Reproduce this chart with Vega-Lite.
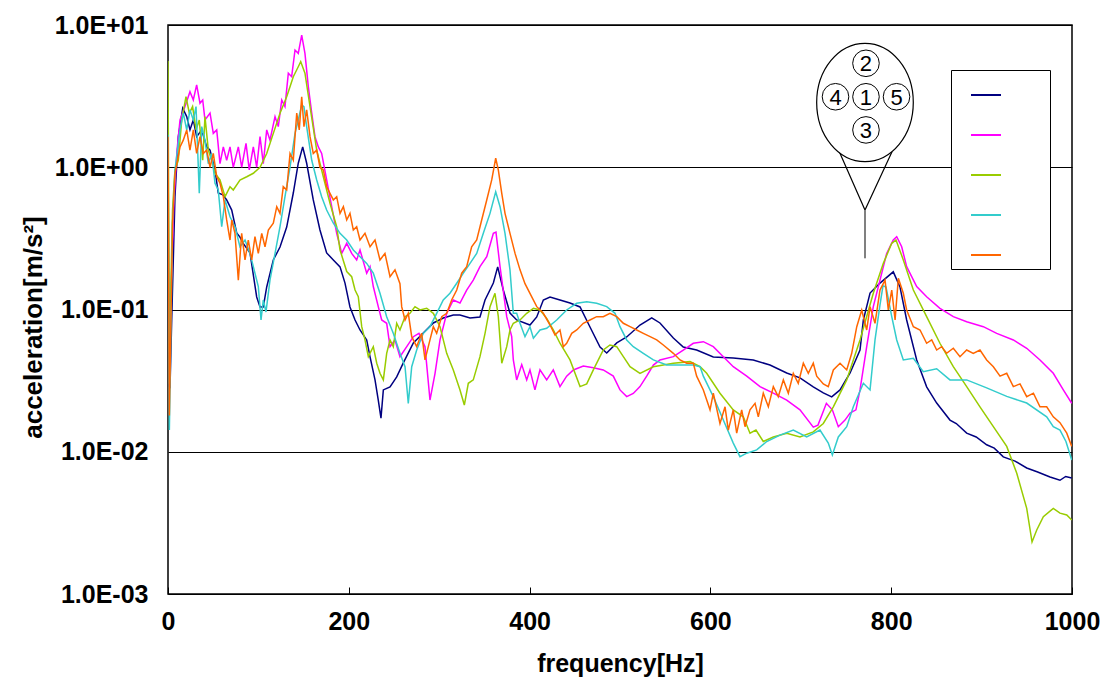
{
  "$schema": "https://vega.github.io/schema/vega-lite/v6.json",
  "width": 904,
  "height": 569,
  "autosize": {"type": "none"},
  "padding": {"left": 168, "top": 25, "right": 29, "bottom": 90},
  "background": "white",
  "config": {
    "view": {"stroke": "black", "strokeWidth": 1.5},
    "axis": {
      "domain": false,
      "labelFont": "Liberation Sans",
      "labelFontWeight": "bold",
      "labelColor": "black",
      "titleFont": "Liberation Sans",
      "titleFontWeight": "bold",
      "titleColor": "black"
    }
  },
  "datasets": {
    "spectra": [
      {"s":"1","f":0,"a":0.03},{"s":"1","f":2.2,"a":0.028},{"s":"1","f":4.1,"a":0.0844},{"s":"1","f":7.7,"a":0.621},{"s":"1","f":11.4,"a":1.64},{"s":"1","f":16.3,"a":2.6},{"s":"1","f":20.7,"a":2.27},{"s":"1","f":24.3,"a":1.83},{"s":"1","f":28,"a":2.15},{"s":"1","f":31.7,"a":1.64},{"s":"1","f":37.3,"a":1.83},{"s":"1","f":42.8,"a":1.39},{"s":"1","f":46.5,"a":1.32},{"s":"1","f":52,"a":0.957},{"s":"1","f":55.6,"a":0.659},{"s":"1","f":60.8,"a":0.64},{"s":"1","f":64.9,"a":0.589},{"s":"1","f":70.5,"a":0.5},{"s":"1","f":76,"a":0.345},{"s":"1","f":79.6,"a":0.323},{"s":"1","f":83,"a":0.293},{"s":"1","f":90.7,"a":0.25},{"s":"1","f":98.1,"a":0.1225},{"s":"1","f":101.8,"a":0.1042},{"s":"1","f":105.4,"a":0.104},{"s":"1","f":109.2,"a":0.144},{"s":"1","f":116.5,"a":0.223},{"s":"1","f":123.9,"a":0.275},{"s":"1","f":131.3,"a":0.38},{"s":"1","f":138.6,"a":0.659},{"s":"1","f":144.1,"a":1.067},{"s":"1","f":149,"a":1.39},{"s":"1","f":153.4,"a":1.067},{"s":"1","f":160.7,"a":0.589},{"s":"1","f":168.1,"a":0.362},{"s":"1","f":175.5,"a":0.25},{"s":"1","f":182.9,"a":0.223},{"s":"1","f":190.3,"a":0.1994},{"s":"1","f":195.8,"a":0.1534},{"s":"1","f":201.3,"a":0.1042},{"s":"1","f":206.9,"a":0.0844},{"s":"1","f":212.4,"a":0.0718},{"s":"1","f":219.8,"a":0.0611},{"s":"1","f":223.5,"a":0.0464},{"s":"1","f":229,"a":0.032},{"s":"1","f":232.6,"a":0.0231},{"s":"1","f":235.6,"a":0.01724},{"s":"1","f":238.2,"a":0.0272},{"s":"1","f":245.6,"a":0.0286},{"s":"1","f":253,"a":0.0336},{"s":"1","f":260.3,"a":0.0421},{"s":"1","f":271.4,"a":0.0582},{"s":"1","f":282.4,"a":0.0684},{"s":"1","f":293.5,"a":0.0804},{"s":"1","f":304.5,"a":0.0872},{"s":"1","f":315.6,"a":0.0915},{"s":"1","f":323,"a":0.0915},{"s":"1","f":334.1,"a":0.0872},{"s":"1","f":345.1,"a":0.0886},{"s":"1","f":350.7,"a":0.1166},{"s":"1","f":359.9,"a":0.1534},{"s":"1","f":364.7,"a":0.1994},{"s":"1","f":370.9,"a":0.137},{"s":"1","f":378.3,"a":0.0945},{"s":"1","f":385.7,"a":0.0844},{"s":"1","f":400.4,"a":0.0778},{"s":"1","f":407.9,"a":0.0886},{"s":"1","f":415.2,"a":0.1166},{"s":"1","f":422.6,"a":0.1225},{"s":"1","f":433.6,"a":0.1166},{"s":"1","f":444.7,"a":0.111},{"s":"1","f":455.8,"a":0.1042},{"s":"1","f":466.8,"a":0.0753},{"s":"1","f":477.9,"a":0.0545},{"s":"1","f":485.3,"a":0.0494},{"s":"1","f":496.4,"a":0.0582},{"s":"1","f":507.4,"a":0.0641},{"s":"1","f":522.1,"a":0.0778},{"s":"1","f":535.1,"a":0.0872},{"s":"1","f":544.2,"a":0.0804},{"s":"1","f":559,"a":0.0631},{"s":"1","f":570,"a":0.0545},{"s":"1","f":584.8,"a":0.0519},{"s":"1","f":603.2,"a":0.0464},{"s":"1","f":625.3,"a":0.0456},{"s":"1","f":647.4,"a":0.0442},{"s":"1","f":665.9,"a":0.0407},{"s":"1","f":684.4,"a":0.0358},{"s":"1","f":699.1,"a":0.0331},{"s":"1","f":713.8,"a":0.0286},{"s":"1","f":724.9,"a":0.0259},{"s":"1","f":734.2,"a":0.0243},{"s":"1","f":743.4,"a":0.0272},{"s":"1","f":754.5,"a":0.0358},{"s":"1","f":765.5,"a":0.0519},{"s":"1","f":769.2,"a":0.0844},{"s":"1","f":776.6,"a":0.1305},{"s":"1","f":787.6,"a":0.1534},{"s":"1","f":802.3,"a":0.184},{"s":"1","f":809.7,"a":0.144},{"s":"1","f":817.1,"a":0.0844},{"s":"1","f":828.2,"a":0.0442},{"s":"1","f":839.2,"a":0.0286},{"s":"1","f":850.3,"a":0.022},{"s":"1","f":865,"a":0.0167},{"s":"1","f":872,"a":0.0158},{"s":"1","f":883.5,"a":0.01353},{"s":"1","f":894,"a":0.0127},{"s":"1","f":905.6,"a":0.0112},{"s":"1","f":914,"a":0.0106},{"s":"1","f":924,"a":0.0092},{"s":"1","f":937,"a":0.0086},{"s":"1","f":949.9,"a":0.00769},{"s":"1","f":962,"a":0.0072},{"s":"1","f":975.7,"a":0.00664},{"s":"1","f":986.7,"a":0.0063},{"s":"1","f":993,"a":0.0067},{"s":"1","f":999.7,"a":0.00653},

      {"s":"2","f":0,"a":0.09},{"s":"2","f":2,"a":0.075},{"s":"2","f":6.6,"a":0.589},{"s":"2","f":10,"a":1.32},{"s":"2","f":13.3,"a":2.15},{"s":"2","f":18.8,"a":2.67},{"s":"2","f":24.3,"a":3.4},{"s":"2","f":28,"a":2.97},{"s":"2","f":31.7,"a":3.79},{"s":"2","f":35.4,"a":2.82},{"s":"2","f":38.4,"a":2.97},{"s":"2","f":40.9,"a":2.15},{"s":"2","f":46.5,"a":2.4},{"s":"2","f":50.1,"a":1.73},{"s":"2","f":53.9,"a":1.83},{"s":"2","f":57.5,"a":1.06},{"s":"2","f":61.2,"a":1.39},{"s":"2","f":64.9,"a":1.12},{"s":"2","f":68.6,"a":1.39},{"s":"2","f":72.2,"a":1.0},{"s":"2","f":77.8,"a":1.39},{"s":"2","f":81.5,"a":1.0},{"s":"2","f":86.3,"a":1.47},{"s":"2","f":89.9,"a":0.957},{"s":"2","f":94.4,"a":1.39},{"s":"2","f":98.1,"a":1.0},{"s":"2","f":101.8,"a":1.64},{"s":"2","f":105.4,"a":1.06},{"s":"2","f":109.2,"a":1.83},{"s":"2","f":112.8,"a":1.55},{"s":"2","f":118.4,"a":2.27},{"s":"2","f":122,"a":1.93},{"s":"2","f":125.8,"a":2.97},{"s":"2","f":129.4,"a":2.67},{"s":"2","f":133.1,"a":4.58},{"s":"2","f":136.8,"a":4.33},{"s":"2","f":140.5,"a":6.67},{"s":"2","f":144.1,"a":6.32},{"s":"2","f":147.9,"a":8.5},{"s":"2","f":151.5,"a":6.32},{"s":"2","f":155.2,"a":3.69},{"s":"2","f":159,"a":2.4},{"s":"2","f":162.6,"a":1.64},{"s":"2","f":166.3,"a":1.39},{"s":"2","f":170,"a":1.25},{"s":"2","f":175.5,"a":0.814},{"s":"2","f":181.1,"a":0.528},{"s":"2","f":186.6,"a":0.343},{"s":"2","f":192.2,"a":0.248},{"s":"2","f":197.7,"a":0.292},{"s":"2","f":203.2,"a":0.248},{"s":"2","f":208.7,"a":0.223},{"s":"2","f":212.4,"a":0.262},{"s":"2","f":219.8,"a":0.18},{"s":"2","f":223.5,"a":0.2},{"s":"2","f":227.1,"a":0.145},{"s":"2","f":232.6,"a":0.1047},{"s":"2","f":236.4,"a":0.0844},{"s":"2","f":241.9,"a":0.08},{"s":"2","f":245.6,"a":0.0548},{"s":"2","f":251.1,"a":0.0611},{"s":"2","f":256.6,"a":0.0466},{"s":"2","f":264.1,"a":0.0548},{"s":"2","f":271.4,"a":0.0644},{"s":"2","f":277.6,"a":0.068},{"s":"2","f":284.3,"a":0.0548},{"s":"2","f":289.8,"a":0.0231},{"s":"2","f":295.4,"a":0.0356},{"s":"2","f":300.9,"a":0.0611},{"s":"2","f":308.3,"a":0.094},{"s":"2","f":315.6,"a":0.1166},{"s":"2","f":323,"a":0.111},{"s":"2","f":330.4,"a":0.137},{"s":"2","f":337.7,"a":0.161},{"s":"2","f":345.1,"a":0.2},{"s":"2","f":352.6,"a":0.235},{"s":"2","f":359.9,"a":0.343},{"s":"2","f":362.8,"a":0.35},{"s":"2","f":367.3,"a":0.2},{"s":"2","f":374.7,"a":0.089},{"s":"2","f":380.2,"a":0.0644},{"s":"2","f":382,"a":0.0442},{"s":"2","f":385.7,"a":0.032},{"s":"2","f":391.3,"a":0.041},{"s":"2","f":396.8,"a":0.032},{"s":"2","f":400.4,"a":0.0376},{"s":"2","f":405.9,"a":0.0272},{"s":"2","f":411.5,"a":0.0376},{"s":"2","f":418.9,"a":0.032},{"s":"2","f":426.2,"a":0.0376},{"s":"2","f":433.6,"a":0.0287},{"s":"2","f":441,"a":0.034},{"s":"2","f":448.4,"a":0.0376},{"s":"2","f":459.4,"a":0.04},{"s":"2","f":470.5,"a":0.039},{"s":"2","f":481.5,"a":0.0376},{"s":"2","f":492.6,"a":0.034},{"s":"2","f":500,"a":0.0272},{"s":"2","f":507.4,"a":0.0244},{"s":"2","f":514.7,"a":0.0257},{"s":"2","f":522.1,"a":0.0287},{"s":"2","f":529.5,"a":0.034},{"s":"2","f":536.9,"a":0.0407},{"s":"2","f":544.2,"a":0.0442},{"s":"2","f":559,"a":0.0466},{"s":"2","f":570,"a":0.0519},{"s":"2","f":581.1,"a":0.0579},{"s":"2","f":592.2,"a":0.0594},{"s":"2","f":603.2,"a":0.0548},{"s":"2","f":614.3,"a":0.0466},{"s":"2","f":625.3,"a":0.0396},{"s":"2","f":640.2,"a":0.034},{"s":"2","f":654.9,"a":0.0287},{"s":"2","f":669.6,"a":0.0258},{"s":"2","f":684.4,"a":0.0231},{"s":"2","f":699.1,"a":0.0197},{"s":"2","f":713.8,"a":0.0149},{"s":"2","f":719,"a":0.0154},{"s":"2","f":728.3,"a":0.0219},{"s":"2","f":734.9,"a":0.0197},{"s":"2","f":741.5,"a":0.015},{"s":"2","f":748.9,"a":0.0167},{"s":"2","f":754.5,"a":0.0187},{"s":"2","f":761,"a":0.0197},{"s":"2","f":765.5,"a":0.0272},{"s":"2","f":772.9,"a":0.0548},{"s":"2","f":780.2,"a":0.1047},{"s":"2","f":787.6,"a":0.161},{"s":"2","f":795,"a":0.248},{"s":"2","f":802.3,"a":0.308},{"s":"2","f":806.1,"a":0.325},{"s":"2","f":811.6,"a":0.276},{"s":"2","f":817.1,"a":0.2},{"s":"2","f":828.2,"a":0.145},{"s":"2","f":839.2,"a":0.123},{"s":"2","f":853.9,"a":0.102},{"s":"2","f":868.7,"a":0.089},{"s":"2","f":883.5,"a":0.0821},{"s":"2","f":901.9,"a":0.0757},{"s":"2","f":916.7,"a":0.068},{"s":"2","f":935.1,"a":0.0611},{"s":"2","f":949.9,"a":0.0534},{"s":"2","f":964.6,"a":0.0442},{"s":"2","f":979.3,"a":0.0356},{"s":"2","f":990.4,"a":0.0272},{"s":"2","f":999.7,"a":0.0219},

      {"s":"3","f":0,"a":5.59},{"s":"3","f":1.5,"a":0.05},{"s":"3","f":5,"a":0.5},{"s":"3","f":7.7,"a":0.957},{"s":"3","f":11.4,"a":1.12},{"s":"3","f":15.2,"a":2.15},{"s":"3","f":19.9,"a":3.13},{"s":"3","f":23.6,"a":2.4},{"s":"3","f":27.2,"a":2.67},{"s":"3","f":31,"a":1.83},{"s":"3","f":34.6,"a":2.15},{"s":"3","f":38.4,"a":1.12},{"s":"3","f":40.9,"a":2.27},{"s":"3","f":44.6,"a":1.32},{"s":"3","f":48.3,"a":1.12},{"s":"3","f":52,"a":0.907},{"s":"3","f":57.5,"a":0.814},{"s":"3","f":63.1,"a":0.621},{"s":"3","f":68.6,"a":0.73},{"s":"3","f":72.2,"a":0.692},{"s":"3","f":79.6,"a":0.814},{"s":"3","f":87.1,"a":0.858},{"s":"3","f":94.4,"a":0.907},{"s":"3","f":101.8,"a":1.0},{"s":"3","f":109.2,"a":1.25},{"s":"3","f":116.5,"a":1.73},{"s":"3","f":123.9,"a":2.4},{"s":"3","f":131.3,"a":3.13},{"s":"3","f":138.6,"a":4.33},{"s":"3","f":144.1,"a":5.09},{"s":"3","f":146.8,"a":5.53},{"s":"3","f":151.5,"a":4.58},{"s":"3","f":157.1,"a":2.67},{"s":"3","f":164.5,"a":1.32},{"s":"3","f":171.8,"a":0.858},{"s":"3","f":179.2,"a":0.558},{"s":"3","f":186.6,"a":0.382},{"s":"3","f":190.3,"a":0.262},{"s":"3","f":197.7,"a":0.185},{"s":"3","f":203.2,"a":0.17},{"s":"3","f":206.9,"a":0.137},{"s":"3","f":210.5,"a":0.123},{"s":"3","f":214.3,"a":0.0757},{"s":"3","f":217.9,"a":0.0611},{"s":"3","f":221.6,"a":0.0466},{"s":"3","f":227.1,"a":0.0548},{"s":"3","f":230.9,"a":0.0419},{"s":"3","f":234.5,"a":0.0356},{"s":"3","f":238.2,"a":0.032},{"s":"3","f":241.9,"a":0.0492},{"s":"3","f":245.6,"a":0.0611},{"s":"3","f":249.2,"a":0.0548},{"s":"3","f":253,"a":0.08},{"s":"3","f":256.6,"a":0.0718},{"s":"3","f":262.2,"a":0.089},{"s":"3","f":267.7,"a":0.094},{"s":"3","f":273.2,"a":0.1047},{"s":"3","f":278.8,"a":0.0992},{"s":"3","f":286.2,"a":0.102},{"s":"3","f":293.5,"a":0.094},{"s":"3","f":300.9,"a":0.0757},{"s":"3","f":308.3,"a":0.0492},{"s":"3","f":315.6,"a":0.0376},{"s":"3","f":323,"a":0.0272},{"s":"3","f":327.8,"a":0.0213},{"s":"3","f":332.2,"a":0.0303},{"s":"3","f":337.7,"a":0.032},{"s":"3","f":345.1,"a":0.0466},{"s":"3","f":350.7,"a":0.068},{"s":"3","f":356.2,"a":0.1047},{"s":"3","f":361.7,"a":0.13},{"s":"3","f":365.4,"a":0.089},{"s":"3","f":369.2,"a":0.0419},{"s":"3","f":374.7,"a":0.0548},{"s":"3","f":378.3,"a":0.0718},{"s":"3","f":382,"a":0.08},{"s":"3","f":389.4,"a":0.0844},{"s":"3","f":396.8,"a":0.094},{"s":"3","f":404.2,"a":0.102},{"s":"3","f":411.5,"a":0.0992},{"s":"3","f":418.9,"a":0.0867},{"s":"3","f":426.2,"a":0.0718},{"s":"3","f":433.6,"a":0.0579},{"s":"3","f":444.7,"a":0.0442},{"s":"3","f":455.8,"a":0.0287},{"s":"3","f":463.2,"a":0.03},{"s":"3","f":470.5,"a":0.0376},{"s":"3","f":481.5,"a":0.0519},{"s":"3","f":488.9,"a":0.0563},{"s":"3","f":496.4,"a":0.0548},{"s":"3","f":503.7,"a":0.0466},{"s":"3","f":511.1,"a":0.0396},{"s":"3","f":522.1,"a":0.0356},{"s":"3","f":536.9,"a":0.0396},{"s":"3","f":559,"a":0.0419},{"s":"3","f":577.5,"a":0.043},{"s":"3","f":588.6,"a":0.0396},{"s":"3","f":595.9,"a":0.0356},{"s":"3","f":610.6,"a":0.0258},{"s":"3","f":625.3,"a":0.0197},{"s":"3","f":636.4,"a":0.0176},{"s":"3","f":643.8,"a":0.0135},{"s":"3","f":650.4,"a":0.0142},{"s":"3","f":658.5,"a":0.0118},{"s":"3","f":669.6,"a":0.0127},{"s":"3","f":684.4,"a":0.0135},{"s":"3","f":699.1,"a":0.0127},{"s":"3","f":713.8,"a":0.0138},{"s":"3","f":724.9,"a":0.0158},{"s":"3","f":736,"a":0.0207},{"s":"3","f":750.8,"a":0.032},{"s":"3","f":765.5,"a":0.0611},{"s":"3","f":780.2,"a":0.13},{"s":"3","f":791.3,"a":0.211},{"s":"3","f":800.6,"a":0.292},{"s":"3","f":805.3,"a":0.308},{"s":"3","f":813.4,"a":0.223},{"s":"3","f":824.5,"a":0.137},{"s":"3","f":839.2,"a":0.089},{"s":"3","f":853.9,"a":0.0579},{"s":"3","f":868.7,"a":0.0396},{"s":"3","f":883.5,"a":0.0287},{"s":"3","f":898.2,"a":0.0207},{"s":"3","f":913,"a":0.015},{"s":"3","f":927.8,"a":0.0109},{"s":"3","f":938.9,"a":0.00705},{"s":"3","f":949.9,"a":0.004},{"s":"3","f":955.8,"a":0.00232},{"s":"3","f":961,"a":0.00282},{"s":"3","f":968.3,"a":0.00349},{"s":"3","f":979.3,"a":0.004},{"s":"3","f":986.7,"a":0.0037},{"s":"3","f":994.2,"a":0.00359},{"s":"3","f":999.7,"a":0.00331},

      {"s":"4","f":0,"a":1.69},{"s":"4","f":1.5,"a":0.0142},{"s":"4","f":5,"a":0.4},{"s":"4","f":7.7,"a":0.957},{"s":"4","f":13.3,"a":1.83},{"s":"4","f":16.9,"a":2.4},{"s":"4","f":20.7,"a":1.83},{"s":"4","f":24.3,"a":2.53},{"s":"4","f":28,"a":2.15},{"s":"4","f":31,"a":2.67},{"s":"4","f":34.6,"a":0.656},{"s":"4","f":37.3,"a":1.93},{"s":"4","f":40.9,"a":1.55},{"s":"4","f":44.6,"a":1.06},{"s":"4","f":48.3,"a":1.25},{"s":"4","f":52,"a":0.772},{"s":"4","f":55.6,"a":0.692},{"s":"4","f":59.4,"a":0.382},{"s":"4","f":63.1,"a":0.589},{"s":"4","f":68.6,"a":0.449},{"s":"4","f":74.1,"a":0.382},{"s":"4","f":79.6,"a":0.276},{"s":"4","f":85.2,"a":0.308},{"s":"4","f":90.7,"a":0.248},{"s":"4","f":94.4,"a":0.2},{"s":"4","f":99.9,"a":0.145},{"s":"4","f":102.9,"a":0.0844},{"s":"4","f":105.4,"a":0.1166},{"s":"4","f":108.4,"a":0.096},{"s":"4","f":112.8,"a":0.161},{"s":"4","f":118.4,"a":0.248},{"s":"4","f":123.9,"a":0.382},{"s":"4","f":129.4,"a":0.621},{"s":"4","f":135,"a":1.0},{"s":"4","f":140.5,"a":1.73},{"s":"4","f":144.1,"a":2.15},{"s":"4","f":147.9,"a":2.74},{"s":"4","f":150.4,"a":2.67},{"s":"4","f":153.4,"a":1.93},{"s":"4","f":159,"a":1.12},{"s":"4","f":164.5,"a":0.814},{"s":"4","f":170,"a":0.621},{"s":"4","f":175.5,"a":0.5},{"s":"4","f":182.9,"a":0.404},{"s":"4","f":190.3,"a":0.343},{"s":"4","f":197.7,"a":0.308},{"s":"4","f":205,"a":0.262},{"s":"4","f":212.4,"a":0.235},{"s":"4","f":219.8,"a":0.211},{"s":"4","f":227.1,"a":0.18},{"s":"4","f":234.5,"a":0.13},{"s":"4","f":241.9,"a":0.089},{"s":"4","f":249.2,"a":0.068},{"s":"4","f":256.6,"a":0.0492},{"s":"4","f":262.2,"a":0.0396},{"s":"4","f":265.8,"a":0.0219},{"s":"4","f":269.6,"a":0.0396},{"s":"4","f":275.1,"a":0.0519},{"s":"4","f":282.4,"a":0.068},{"s":"4","f":289.8,"a":0.0757},{"s":"4","f":297.2,"a":0.094},{"s":"4","f":304.5,"a":0.1166},{"s":"4","f":311.9,"a":0.13},{"s":"4","f":319.4,"a":0.153},{"s":"4","f":326.7,"a":0.18},{"s":"4","f":334.1,"a":0.211},{"s":"4","f":341.5,"a":0.248},{"s":"4","f":348.8,"a":0.343},{"s":"4","f":356.2,"a":0.474},{"s":"4","f":362.5,"a":0.673},{"s":"4","f":367.3,"a":0.528},{"s":"4","f":372.8,"a":0.343},{"s":"4","f":378.3,"a":0.19},{"s":"4","f":382,"a":0.094},{"s":"4","f":385.7,"a":0.094},{"s":"4","f":389.4,"a":0.08},{"s":"4","f":394.9,"a":0.0644},{"s":"4","f":400.4,"a":0.0757},{"s":"4","f":404.2,"a":0.0628},{"s":"4","f":411.5,"a":0.0718},{"s":"4","f":418.9,"a":0.0738},{"s":"4","f":430,"a":0.0844},{"s":"4","f":441,"a":0.0992},{"s":"4","f":452.1,"a":0.1105},{"s":"4","f":463.2,"a":0.1134},{"s":"4","f":474.2,"a":0.1105},{"s":"4","f":485.3,"a":0.1047},{"s":"4","f":494.5,"a":0.094},{"s":"4","f":500,"a":0.0757},{"s":"4","f":507.4,"a":0.0611},{"s":"4","f":514.7,"a":0.0548},{"s":"4","f":525.8,"a":0.0492},{"s":"4","f":536.9,"a":0.0442},{"s":"4","f":551.7,"a":0.0407},{"s":"4","f":566.4,"a":0.0407},{"s":"4","f":581.1,"a":0.0407},{"s":"4","f":588.6,"a":0.0396},{"s":"4","f":592.2,"a":0.034},{"s":"4","f":603.2,"a":0.0244},{"s":"4","f":614.3,"a":0.0167},{"s":"4","f":625.3,"a":0.0115},{"s":"4","f":632.7,"a":0.00924},{"s":"4","f":640.2,"a":0.00977},{"s":"4","f":651.2,"a":0.0103},{"s":"4","f":662.3,"a":0.0118},{"s":"4","f":677,"a":0.0131},{"s":"4","f":691.7,"a":0.0142},{"s":"4","f":706.5,"a":0.0127},{"s":"4","f":721.2,"a":0.0142},{"s":"4","f":730.4,"a":0.0115},{"s":"4","f":734.9,"a":0.0095},{"s":"4","f":741.5,"a":0.0127},{"s":"4","f":750.8,"a":0.015},{"s":"4","f":758.1,"a":0.0207},{"s":"4","f":769.2,"a":0.0303},{"s":"4","f":776.6,"a":0.0272},{"s":"4","f":782.1,"a":0.0611},{"s":"4","f":787.6,"a":0.1076},{"s":"4","f":790.9,"a":0.1466},{"s":"4","f":794.3,"a":0.144},{"s":"4","f":800.6,"a":0.089},{"s":"4","f":806.1,"a":0.0611},{"s":"4","f":813.4,"a":0.0442},{"s":"4","f":824.5,"a":0.0454},{"s":"4","f":835.5,"a":0.0365},{"s":"4","f":850.3,"a":0.0383},{"s":"4","f":865,"a":0.032},{"s":"4","f":883.5,"a":0.032},{"s":"4","f":905.6,"a":0.0281},{"s":"4","f":927.8,"a":0.0245},{"s":"4","f":949.9,"a":0.022},{"s":"4","f":972,"a":0.0176},{"s":"4","f":979.3,"a":0.015},{"s":"4","f":986.7,"a":0.0142},{"s":"4","f":993.3,"a":0.0118},{"s":"4","f":999.7,"a":0.00875},

      {"s":"5","f":0,"a":1.64},{"s":"5","f":1.5,"a":0.018},{"s":"5","f":5,"a":0.4},{"s":"5","f":7.7,"a":0.907},{"s":"5","f":13.3,"a":1.39},{"s":"5","f":16.9,"a":1.55},{"s":"5","f":20.7,"a":1.83},{"s":"5","f":24.3,"a":1.32},{"s":"5","f":28,"a":1.83},{"s":"5","f":31.7,"a":1.25},{"s":"5","f":35.4,"a":1.64},{"s":"5","f":39,"a":1.25},{"s":"5","f":42.8,"a":1.32},{"s":"5","f":46.5,"a":1.0},{"s":"5","f":50.1,"a":1.25},{"s":"5","f":53.9,"a":0.858},{"s":"5","f":57.5,"a":0.772},{"s":"5","f":61.2,"a":0.621},{"s":"5","f":64.9,"a":0.426},{"s":"5","f":68.6,"a":0.308},{"s":"5","f":70.5,"a":0.426},{"s":"5","f":74.1,"a":0.343},{"s":"5","f":77.8,"a":0.161},{"s":"5","f":81.5,"a":0.343},{"s":"5","f":85.2,"a":0.223},{"s":"5","f":88.8,"a":0.308},{"s":"5","f":92.6,"a":0.223},{"s":"5","f":96.2,"a":0.325},{"s":"5","f":99.9,"a":0.248},{"s":"5","f":103.7,"a":0.343},{"s":"5","f":107.3,"a":0.276},{"s":"5","f":111,"a":0.362},{"s":"5","f":116.5,"a":0.404},{"s":"5","f":120.3,"a":0.528},{"s":"5","f":123.9,"a":0.474},{"s":"5","f":127.5,"a":0.73},{"s":"5","f":131.3,"a":0.692},{"s":"5","f":135,"a":1.25},{"s":"5","f":138.6,"a":1.12},{"s":"5","f":142.4,"a":2.4},{"s":"5","f":145.2,"a":1.83},{"s":"5","f":147.9,"a":3.13},{"s":"5","f":150.4,"a":1.93},{"s":"5","f":153.4,"a":2.53},{"s":"5","f":157.1,"a":1.64},{"s":"5","f":160.7,"a":1.25},{"s":"5","f":164.5,"a":1.32},{"s":"5","f":168.1,"a":1.0},{"s":"5","f":171.8,"a":0.957},{"s":"5","f":175.5,"a":0.73},{"s":"5","f":179.2,"a":0.656},{"s":"5","f":182.9,"a":0.589},{"s":"5","f":186.6,"a":0.621},{"s":"5","f":190.3,"a":0.474},{"s":"5","f":194,"a":0.528},{"s":"5","f":197.7,"a":0.426},{"s":"5","f":201.3,"a":0.474},{"s":"5","f":205,"a":0.362},{"s":"5","f":208.7,"a":0.382},{"s":"5","f":212.4,"a":0.308},{"s":"5","f":217.9,"a":0.343},{"s":"5","f":223.5,"a":0.276},{"s":"5","f":229,"a":0.308},{"s":"5","f":234.5,"a":0.223},{"s":"5","f":240,"a":0.248},{"s":"5","f":245.6,"a":0.17},{"s":"5","f":251.1,"a":0.19},{"s":"5","f":256.6,"a":0.152},{"s":"5","f":258.5,"a":0.1047},{"s":"5","f":262.2,"a":0.0844},{"s":"5","f":265.8,"a":0.094},{"s":"5","f":269.6,"a":0.0644},{"s":"5","f":275.1,"a":0.0548},{"s":"5","f":280.6,"a":0.068},{"s":"5","f":284.3,"a":0.0442},{"s":"5","f":289.8,"a":0.0611},{"s":"5","f":293.5,"a":0.0757},{"s":"5","f":297.2,"a":0.068},{"s":"5","f":302.8,"a":0.089},{"s":"5","f":308.3,"a":0.094},{"s":"5","f":313.8,"a":0.1166},{"s":"5","f":319.4,"a":0.137},{"s":"5","f":324.9,"a":0.18},{"s":"5","f":330.4,"a":0.2},{"s":"5","f":335.9,"a":0.276},{"s":"5","f":341.5,"a":0.308},{"s":"5","f":347,"a":0.426},{"s":"5","f":352.6,"a":0.589},{"s":"5","f":358.1,"a":0.814},{"s":"5","f":362.5,"a":1.157},{"s":"5","f":365.4,"a":0.957},{"s":"5","f":369.2,"a":0.656},{"s":"5","f":372.8,"a":0.474},{"s":"5","f":378.3,"a":0.343},{"s":"5","f":383.9,"a":0.248},{"s":"5","f":389.4,"a":0.19},{"s":"5","f":394.9,"a":0.152},{"s":"5","f":400.4,"a":0.13},{"s":"5","f":407.9,"a":0.1047},{"s":"5","f":415.2,"a":0.094},{"s":"5","f":422.6,"a":0.0778},{"s":"5","f":428.1,"a":0.0662},{"s":"5","f":433.6,"a":0.0718},{"s":"5","f":437.3,"a":0.0548},{"s":"5","f":441,"a":0.0579},{"s":"5","f":446.6,"a":0.068},{"s":"5","f":452.1,"a":0.0718},{"s":"5","f":459.4,"a":0.08},{"s":"5","f":466.8,"a":0.0844},{"s":"5","f":474.2,"a":0.089},{"s":"5","f":481.5,"a":0.089},{"s":"5","f":488.9,"a":0.094},{"s":"5","f":496.4,"a":0.089},{"s":"5","f":503.7,"a":0.08},{"s":"5","f":511.1,"a":0.0757},{"s":"5","f":518.5,"a":0.0718},{"s":"5","f":525.8,"a":0.068},{"s":"5","f":533.3,"a":0.0644},{"s":"5","f":540.6,"a":0.0611},{"s":"5","f":547.9,"a":0.0563},{"s":"5","f":559,"a":0.0492},{"s":"5","f":566.4,"a":0.0442},{"s":"5","f":573.8,"a":0.0419},{"s":"5","f":581.1,"a":0.0419},{"s":"5","f":584.8,"a":0.034},{"s":"5","f":592.2,"a":0.0272},{"s":"5","f":599.6,"a":0.0197},{"s":"5","f":603.2,"a":0.0258},{"s":"5","f":610.6,"a":0.0158},{"s":"5","f":616.2,"a":0.0207},{"s":"5","f":619.8,"a":0.0142},{"s":"5","f":625.3,"a":0.0197},{"s":"5","f":629.1,"a":0.0135},{"s":"5","f":634.6,"a":0.0197},{"s":"5","f":638.3,"a":0.015},{"s":"5","f":643.8,"a":0.0197},{"s":"5","f":649.4,"a":0.0219},{"s":"5","f":653,"a":0.0176},{"s":"5","f":658.5,"a":0.0258},{"s":"5","f":664.1,"a":0.0207},{"s":"5","f":669.6,"a":0.0287},{"s":"5","f":675.1,"a":0.0244},{"s":"5","f":680.7,"a":0.032},{"s":"5","f":686.2,"a":0.0258},{"s":"5","f":691.7,"a":0.0356},{"s":"5","f":697.2,"a":0.0303},{"s":"5","f":702.8,"a":0.0419},{"s":"5","f":708.3,"a":0.0356},{"s":"5","f":713.8,"a":0.0419},{"s":"5","f":717.6,"a":0.034},{"s":"5","f":724.9,"a":0.03},{"s":"5","f":730.4,"a":0.0287},{"s":"5","f":736,"a":0.0376},{"s":"5","f":743.4,"a":0.0419},{"s":"5","f":750.8,"a":0.0376},{"s":"5","f":756.3,"a":0.0492},{"s":"5","f":761.9,"a":0.0757},{"s":"5","f":767.4,"a":0.0992},{"s":"5","f":772.9,"a":0.0718},{"s":"5","f":776.6,"a":0.1047},{"s":"5","f":782.1,"a":0.08},{"s":"5","f":787.6,"a":0.137},{"s":"5","f":793.2,"a":0.161},{"s":"5","f":796.8,"a":0.0992},{"s":"5","f":800.6,"a":0.137},{"s":"5","f":804.3,"a":0.0844},{"s":"5","f":807.9,"a":0.166},{"s":"5","f":813.4,"a":0.13},{"s":"5","f":817.1,"a":0.0992},{"s":"5","f":824.5,"a":0.0757},{"s":"5","f":831.9,"a":0.0718},{"s":"5","f":839.2,"a":0.0579},{"s":"5","f":844.8,"a":0.0611},{"s":"5","f":850.3,"a":0.0519},{"s":"5","f":855.8,"a":0.0548},{"s":"5","f":861.3,"a":0.0492},{"s":"5","f":868.7,"a":0.0534},{"s":"5","f":876.1,"a":0.0466},{"s":"5","f":883.5,"a":0.0519},{"s":"5","f":890.8,"a":0.0492},{"s":"5","f":898.2,"a":0.0519},{"s":"5","f":905.6,"a":0.0442},{"s":"5","f":913,"a":0.0396},{"s":"5","f":920.4,"a":0.034},{"s":"5","f":927.8,"a":0.0356},{"s":"5","f":935.1,"a":0.0287},{"s":"5","f":942.5,"a":0.03},{"s":"5","f":949.9,"a":0.0244},{"s":"5","f":957.3,"a":0.0258},{"s":"5","f":964.6,"a":0.0207},{"s":"5","f":972,"a":0.0207},{"s":"5","f":979.3,"a":0.0176},{"s":"5","f":986.7,"a":0.016},{"s":"5","f":994.2,"a":0.0135},{"s":"5","f":999.7,"a":0.0109}
    ],
    "pointer": [
      {"f": 742.6, "a": 1.286},
      {"f": 771.0, "a": 0.5005},
      {"f": 800.9, "a": 1.286}
    ],
    "stem": [{"f": 771.0, "a": 0.5005, "a2": 0.229}],
    "housing": [{"f": 771.0, "a": 2.853}],
    "sensors": [
      {"f": 772.1, "a": 5.38, "n": "2"},
      {"f": 738.4, "a": 3.13, "n": "4"},
      {"f": 772.1, "a": 3.13, "n": "1"},
      {"f": 805.9, "a": 3.13, "n": "5"},
      {"f": 772.1, "a": 1.83, "n": "3"}
    ]
  },
  "layer": [
    {
      "data": {"name": "spectra"},
      "mark": {"type": "line", "strokeWidth": 1.5, "clip": true},
      "encoding": {
        "x": {
          "field": "f",
          "type": "quantitative",
          "scale": {"domain": [0, 1000], "nice": false},
          "axis": {
            "values": [0, 200, 400, 600, 800, 1000],
            "format": "d",
            "title": "frequency[Hz]",
            "grid": false,
            "ticks": true,
            "tickSize": -7,
            "tickColor": "black",
            "tickWidth": 1,
            "labelFontSize": 25,
            "labelPadding": 22,
            "labelFlush": false,
            "titleFontSize": 25,
            "titlePadding": 17
          }
        },
        "y": {
          "field": "a",
          "type": "quantitative",
          "scale": {"type": "log", "domain": [0.001, 10], "nice": false},
          "axis": {
            "values": [0.001, 0.01, 0.1, 1, 10],
            "title": "acceleration[m/s²]",
            "grid": true,
            "gridColor": "black",
            "gridOpacity": 1,
            "gridWidth": 1,
            "ticks": false,
            "labelPadding": 20,
            "labelFontSize": 25,
            "labelExpr": "datum.value >= 5 ? '1.0E+01' : datum.value >= 0.5 ? '1.0E+00' : datum.value >= 0.05 ? '1.0E-01' : datum.value >= 0.005 ? '1.0E-02' : '1.0E-03'",
            "titleFontSize": 26,
            "titlePadding": 8,
            "titleY": 302
          }
        },
        "color": {
          "field": "s",
          "type": "nominal",
          "scale": {
            "domain": ["1", "2", "3", "4", "5"],
            "range": ["#000080", "#FF00FF", "#99CC00", "#33CCCC", "#FF6600"]
          },
          "legend": {
            "orient": "none",
            "legendX": 783,
            "legendY": 45,
            "title": null,
            "symbolType": "stroke",
            "symbolSize": 900,
            "symbolStrokeWidth": 2,
            "labelExpr": "''",
            "labelOffset": 39,
            "padding": 9,
            "symbolOffset": 10,
            "rowPadding": 19,
            "strokeColor": "black",
            "fillColor": "white"
          }
        }
      }
    },
    {
      "data": {"name": "pointer"},
      "mark": {"type": "line", "color": "black", "strokeWidth": 1.2},
      "encoding": {
        "x": {"field": "f", "type": "quantitative"},
        "y": {"field": "a", "type": "quantitative"}
      }
    },
    {
      "data": {"name": "stem"},
      "mark": {"type": "rule", "color": "#808080", "strokeWidth": 2},
      "encoding": {
        "x": {"field": "f", "type": "quantitative"},
        "y": {"field": "a", "type": "quantitative"},
        "y2": {"field": "a2"}
      }
    },
    {
      "data": {"name": "housing"},
      "mark": {
        "type": "point",
        "shape": "M -0.816 0 A 0.816 1 0 1 1 0.816 0 A 0.816 1 0 1 1 -0.816 0 Z",
        "size": 14018,
        "filled": true,
        "fill": "white",
        "stroke": "black",
        "strokeWidth": 1.2,
        "opacity": 1
      },
      "encoding": {
        "x": {"field": "f", "type": "quantitative"},
        "y": {"field": "a", "type": "quantitative"}
      }
    },
    {
      "data": {"name": "sensors"},
      "mark": {
        "type": "point",
        "shape": "circle",
        "size": 707,
        "filled": true,
        "fill": "white",
        "stroke": "black",
        "strokeWidth": 1,
        "opacity": 1
      },
      "encoding": {
        "x": {"field": "f", "type": "quantitative"},
        "y": {"field": "a", "type": "quantitative"}
      }
    },
    {
      "data": {"name": "sensors"},
      "mark": {
        "type": "text",
        "font": "Liberation Sans",
        "fontSize": 22,
        "align": "center",
        "baseline": "middle",
        "dy": 1,
        "color": "black"
      },
      "encoding": {
        "x": {"field": "f", "type": "quantitative"},
        "y": {"field": "a", "type": "quantitative"},
        "text": {"field": "n"}
      }
    }
  ]
}
